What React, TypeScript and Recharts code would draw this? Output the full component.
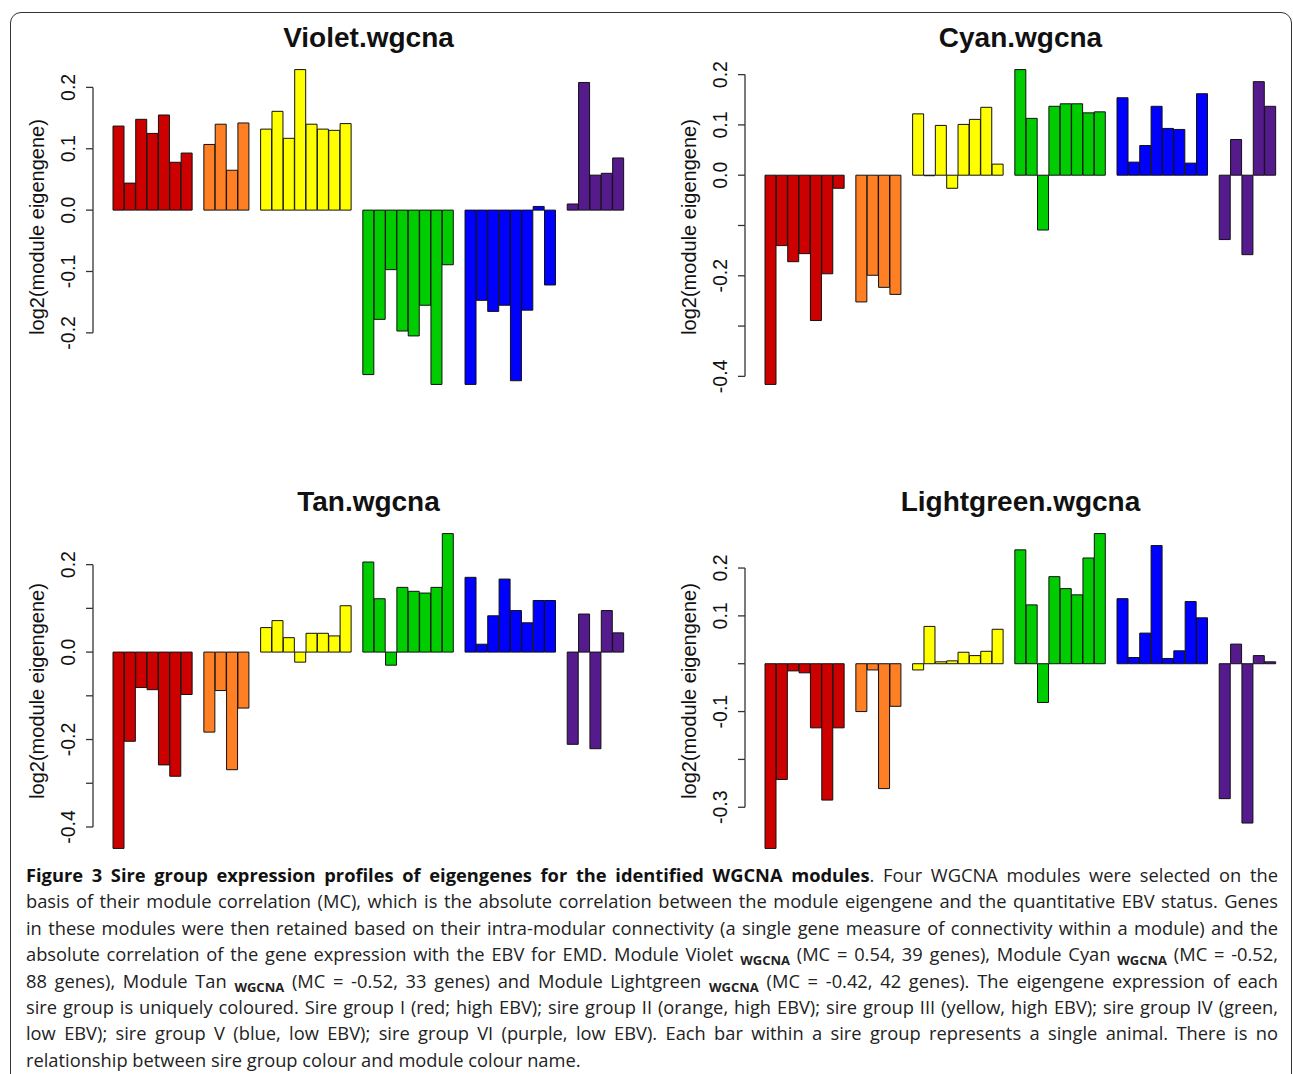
import React from 'react';
import { BarChart, Bar, XAxis, YAxis, Cell } from 'recharts';

// sire groups I..VI and their colours
const sireGroups = ['I', 'II', 'III', 'IV', 'V', 'VI'];
const sireColors = ['#CD0000', '#FF7F24', '#FFFF00', '#00CD00', '#0000FF', '#551A8B'];

// Violet.wgcna
const violetI = [0.137, 0.044, 0.148, 0.125, 0.155, 0.078, 0.093];
const violetII = [0.107, 0.14, 0.065, 0.142];
const violetIII = [0.132, 0.161, 0.117, 0.229, 0.14, 0.132, 0.13, 0.141];
const violetIV = [-0.268, -0.178, -0.097, -0.197, -0.205, -0.155, -0.284, -0.089];
const violetV = [-0.284, -0.147, -0.165, -0.155, -0.278, -0.163, 0.006, -0.122];
const violetVI = [0.01, 0.208, 0.057, 0.06, 0.085];

// Cyan.wgcna
const cyanI = [-0.416, -0.14, -0.172, -0.156, -0.289, -0.196, -0.026];
const cyanII = [-0.252, -0.199, -0.223, -0.237];
const cyanIII = [0.122, -0.001, 0.099, -0.026, 0.101, 0.111, 0.135, 0.022];
const cyanIV = [0.21, 0.113, -0.109, 0.137, 0.142, 0.142, 0.124, 0.126];
const cyanV = [0.154, 0.026, 0.059, 0.137, 0.093, 0.091, 0.024, 0.162];
const cyanVI = [-0.128, 0.071, -0.158, 0.186, 0.137];

// Tan.wgcna
const tanI = [-0.449, -0.204, -0.081, -0.086, -0.258, -0.284, -0.097];
const tanII = [-0.183, -0.088, -0.269, -0.128];
const tanIII = [0.056, 0.072, 0.033, -0.023, 0.043, 0.043, 0.037, 0.106];
const tanIV = [0.206, 0.122, -0.03, 0.148, 0.139, 0.135, 0.148, 0.271];
const tanV = [0.171, 0.018, 0.083, 0.167, 0.095, 0.067, 0.118, 0.118];
const tanVI = [-0.211, 0.087, -0.221, 0.095, 0.044];

// Lightgreen.wgcna
const lightgreenI = [-0.386, -0.242, -0.015, -0.019, -0.134, -0.285, -0.134];
const lightgreenII = [-0.1, -0.013, -0.261, -0.089];
const lightgreenIII = [-0.013, 0.078, 0.004, 0.006, 0.024, 0.017, 0.026, 0.072];
const lightgreenIV = [0.238, 0.123, -0.081, 0.182, 0.157, 0.144, 0.221, 0.272];
const lightgreenV = [0.136, 0.013, 0.064, 0.247, 0.011, 0.027, 0.13, 0.096];
const lightgreenVI = [-0.282, 0.041, -0.333, 0.017, 0.004];

// y ticks (all drawn) and the ones that get a label
const violetTicks = [-0.2, -0.1, 0, 0.1, 0.2];
const violetLabels = [-0.2, -0.1, 0, 0.1, 0.2];
const cyanTicks = [-0.4, -0.3, -0.2, -0.1, 0, 0.1, 0.2];
const cyanLabels = [-0.4, -0.2, 0, 0.1, 0.2];
const tanTicks = [-0.4, -0.3, -0.2, -0.1, 0, 0.1, 0.2];
const tanLabels = [-0.4, -0.2, 0, 0.2];
const lightgreenTicks = [-0.3, -0.2, -0.1, 0, 0.1, 0.2];
const lightgreenLabels = [-0.3, -0.1, 0.1, 0.2];

const CHART_W = 644;
const CHART_H = 400;
const MARGIN_TOP = 57;
const MARGIN_BOTTOM = 3;
const PLOT_H = CHART_H - MARGIN_TOP - MARGIN_BOTTOM;
const AXIS_W = 93;
const FONT = '"Liberation Sans", Arial, Helvetica, sans-serif';

type Row = { id: string; value: number | null; group: number };

// one row per animal, with an empty slot between sire groups
const buildRows = (groups: number[][]): Row[] => {
  const rows: Row[] = [];
  groups.forEach((vals, gi) => {
    if (gi > 0) rows.push({ id: `gap-${gi}`, value: null, group: -1 });
    vals.forEach((v, i) => rows.push({ id: `${sireGroups[gi]}-${i + 1}`, value: v, group: gi }));
  });
  return rows;
};

type PanelProps = {
  title: string;
  groups: number[][];
  ticks: number[];
  labels: number[];
  left: number;
  top: number;
};

const Panel = ({ title, groups, ticks, labels, left, top }: PanelProps) => {
  const rows = buildRows(groups);
  const all = groups.flat();
  const min = Math.min(0, ...all);
  const max = Math.max(0, ...all);
  const pad = (max - min) * 0.04;
  const lo = min - pad;
  const hi = max + pad;
  const step = (PLOT_H * 0.1) / (hi - lo);
  const topTick = Math.max(...ticks);

  const renderTick = (p: any) => {
    const v = p.payload.value;
    const ax = p.x + 9;
    const lx = p.x - 16;
    const show = labels.some((l) => Math.abs(l - v) < 1e-6);
    return (
      <g>
        {v < topTick - 1e-6 && (
          <line x1={ax} x2={ax} y1={p.y} y2={p.y - step} stroke="#333" strokeWidth={1.3} />
        )}
        {show && (
          <text
            x={lx}
            y={p.y}
            transform={`rotate(-90 ${lx} ${p.y})`}
            textAnchor="middle"
            dominantBaseline="central"
            fontFamily={FONT}
            fontSize={19.5}
            fill="#111"
          >
            {v.toFixed(1)}
          </text>
        )}
      </g>
    );
  };

  return (
    <div style={{ position: 'absolute', left, top, width: CHART_W, height: CHART_H }}>
      <div
        style={{
          position: 'absolute',
          left: AXIS_W,
          width: CHART_W - AXIS_W,
          top: 24,
          lineHeight: '28px',
          textAlign: 'center',
          fontFamily: FONT,
          fontWeight: 'bold',
          fontSize: 28,
          color: '#111',
        }}
      >
        {title}
      </div>
      <BarChart
        width={CHART_W}
        height={CHART_H}
        data={rows}
        margin={{ top: MARGIN_TOP, right: 0, bottom: MARGIN_BOTTOM, left: 0 }}
        barCategoryGap={0}
        barGap={0}
      >
        <XAxis dataKey="id" hide padding={{ left: 20, right: 20 }} />
        <YAxis
          type="number"
          domain={[lo, hi]}
          allowDataOverflow
          ticks={ticks}
          interval={0}
          width={AXIS_W}
          axisLine={false}
          tickLine={{ stroke: '#333', strokeWidth: 1.3 }}
          tickSize={7}
          tickMargin={2}
          tick={renderTick}
          label={{
            content: (lp: any) => {
              const vb = lp.viewBox || { x: 0, y: MARGIN_TOP, height: PLOT_H };
              const cx = vb.x + 37;
              const cy = vb.y + vb.height / 2;
              return (
                <text
                  x={cx}
                  y={cy}
                  transform={`rotate(-90 ${cx} ${cy})`}
                  textAnchor="middle"
                  dominantBaseline="central"
                  fontFamily={FONT}
                  fontSize={20}
                  fill="#111"
                >
                  log2(module eigengene)
                </text>
              );
            },
          }}
        />
        <Bar dataKey="value" isAnimationActive={false} stroke="#111" strokeWidth={1}>
          {rows.map((r) => (
            <Cell key={r.id} fill={r.group >= 0 ? sireColors[r.group] : 'none'} />
          ))}
        </Bar>
      </BarChart>
    </div>
  );
};

const Sub = () => (
  <span style={{ fontWeight: 'bold', fontSize: 13, verticalAlign: -4 }}>WGCNA</span>
);

const lineStyle = (last: boolean): React.CSSProperties => ({
  textAlign: 'justify',
  textAlignLast: last ? 'left' : 'justify',
  height: 26.4,
  lineHeight: '26.4px',
  whiteSpace: 'nowrap',
});

const App = () => {
  return (
    <div
      style={{
        position: 'absolute',
        left: 0,
        top: 0,
        width: 1293,
        height: 1074,
        overflow: 'hidden',
        background: '#fff',
      }}
    >
      <div
        style={{
          position: 'absolute',
          left: 10,
          top: 12,
          width: 1280,
          height: 1100,
          border: '1.4px solid #333',
          borderRadius: 11,
        }}
      />
      <Panel title="Violet.wgcna" groups={[violetI, violetII, violetIII, violetIV, violetV, violetVI]} ticks={violetTicks} labels={violetLabels} left={0} top={0} />
      <Panel title="Cyan.wgcna" groups={[cyanI, cyanII, cyanIII, cyanIV, cyanV, cyanVI]} ticks={cyanTicks} labels={cyanLabels} left={652} top={0} />
      <Panel title="Tan.wgcna" groups={[tanI, tanII, tanIII, tanIV, tanV, tanVI]} ticks={tanTicks} labels={tanLabels} left={0} top={464} />
      <Panel title="Lightgreen.wgcna" groups={[lightgreenI, lightgreenII, lightgreenIII, lightgreenIV, lightgreenV, lightgreenVI]} ticks={lightgreenTicks} labels={lightgreenLabels} left={652} top={464} />

      <div
        style={{
          position: 'absolute',
          left: 26,
          top: 862,
          width: 1252,
          fontFamily: '"Open Sans", "Noto Sans", sans-serif',
          fontSize: 18.3,
          color: '#222',
        }}
      >
        <div style={lineStyle(false)}>
          <b style={{ color: '#111' }}>Figure 3 Sire group expression profiles of eigengenes for the identified WGCNA modules</b>. Four WGCNA modules were selected on the
        </div>
        <div style={lineStyle(false)}>
          basis of their module correlation (MC), which is the absolute correlation between the module eigengene and the quantitative EBV status. Genes
        </div>
        <div style={lineStyle(false)}>
          in these modules were then retained based on their intra-modular connectivity (a single gene measure of connectivity within a module) and the
        </div>
        <div style={lineStyle(false)}>
          absolute correlation of the gene expression with the EBV for EMD. Module Violet <Sub /> (MC = 0.54, 39 genes), Module Cyan <Sub /> (MC = -0.52,
        </div>
        <div style={lineStyle(false)}>
          88 genes), Module Tan <Sub /> (MC = -0.52, 33 genes) and Module Lightgreen <Sub /> (MC = -0.42, 42 genes). The eigengene expression of each
        </div>
        <div style={lineStyle(false)}>
          sire group is uniquely coloured. Sire group I (red; high EBV); sire group II (orange, high EBV); sire group III (yellow, high EBV); sire group IV (green,
        </div>
        <div style={lineStyle(false)}>
          low EBV); sire group V (blue, low EBV); sire group VI (purple, low EBV). Each bar within a sire group represents a single animal. There is no
        </div>
        <div style={lineStyle(true)}>
          relationship between sire group colour and module colour name.
        </div>
      </div>
    </div>
  );
};

export default App;
